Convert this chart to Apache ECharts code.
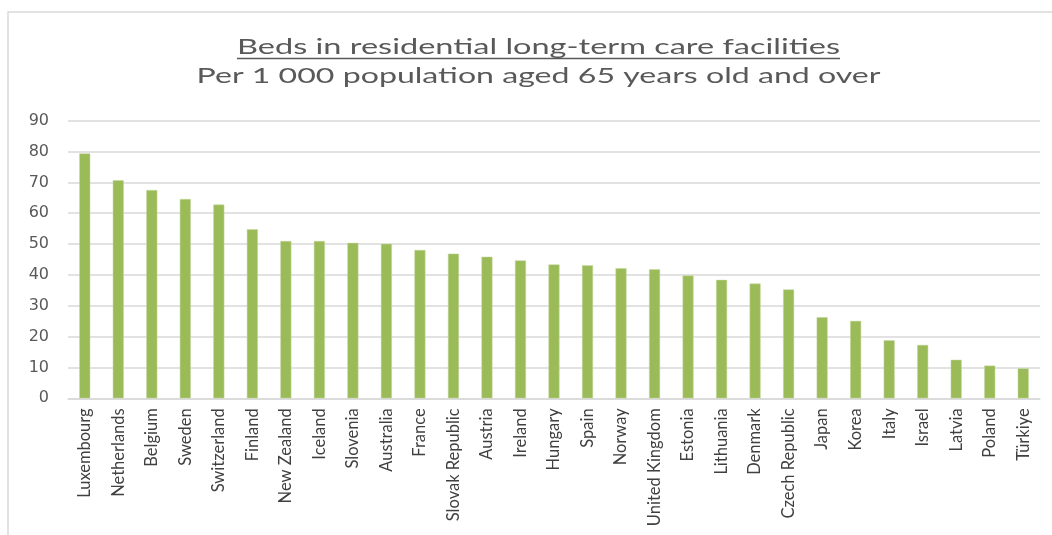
<!DOCTYPE html>
<html><head><meta charset="utf-8">
<script src="https://cdn.jsdelivr.net/npm/echarts@6/dist/echarts.min.js"></script>
<style>html,body{margin:0;padding:0;background:#fff}#c{width:1052px;height:535px}</style>
</head><body><div id="c"></div>
<script>
const categories = ["Luxembourg","Netherlands","Belgium","Sweden","Switzerland","Finland","New Zealand","Iceland","Slovenia","Australia","France","Slovak Republic","Austria","Ireland","Hungary","Spain","Norway","United Kingdom","Estonia","Lithuania","Denmark","Czech Republic","Japan","Korea","Italy","Israel","Latvia","Poland","Türkiye"];
const beds = [79.4,70.7,67.5,64.6,62.8,54.8,51.0,51.0,50.4,50.1,48.1,46.9,45.9,44.7,43.4,43.1,42.2,41.8,39.8,38.4,37.2,35.3,26.3,25.1,18.8,17.3,12.5,10.6,9.7];
const titleText = "Beds in residential long-term care facilities";
const subtitleText = "Per 1 000 population aged 65 years old and over";
const yTicks = {min:0, max:90, interval:10};

const fontFam = 'Lato, "Noto Sans", sans-serif';
function textWidth(txt, font){
  const c = document.createElement('canvas').getContext('2d');
  c.font = font; return c.measureText(txt).width;
}
const titleFont = '21px ' + fontFam;
const subFont = '22px ' + fontFam;
const titleScale = 603 / textWidth(titleText, titleFont);
const subScale = 684 / textWidth(subtitleText, subFont);

const chart = echarts.init(document.getElementById('c'), null, {renderer:'canvas'});
chart.setOption({
  animation:false,
  backgroundColor:'#fff',
  graphic:[
    {type:'rect', shape:{x:8, y:12, width:1100, height:600}, style:{fill:'none', stroke:'#d9d9d9', lineWidth:1.5}, silent:true},
    {type:'text', x:538.5, y:47, scaleX:titleScale, silent:true,
     style:{text:titleText, font:titleFont, fill:'#595959', align:'center', verticalAlign:'middle'}},
    {type:'line', shape:{x1:237, y1:58.5, x2:840, y2:58.5}, style:{stroke:'#595959', lineWidth:1.3}, silent:true},
    {type:'text', x:538.5, y:75.5, scaleX:subScale, silent:true,
     style:{text:subtitleText, font:subFont, fill:'#595959', align:'center', verticalAlign:'middle'}}
  ],
  grid:{left:68, right:12, top:120.7, bottom:136.7, containLabel:false},
  xAxis:{type:'category', data:categories,
    axisLine:{lineStyle:{color:'#d9d9d9', width:1.5}}, axisTick:{show:false},
    axisLabel:{rotate:90, interval:0, margin:10, color:'#404040', fontFamily:fontFam, fontSize:16.5}},
  yAxis:{type:'value', min:yTicks.min, max:yTicks.max, interval:yTicks.interval,
    axisLine:{show:false}, axisTick:{show:false},
    splitLine:{lineStyle:{color:'#d9d9d9', width:1.5}},
    axisLabel:{color:'#595959', fontFamily:'"DejaVu Sans", sans-serif', fontSize:16, margin:19}},
  series:[{type:'bar', data:beds, barWidth:11, itemStyle:{color:'#9bbb59', borderColor:'#c5d9a0', borderWidth:0.5}}]
});
</script></body></html>
